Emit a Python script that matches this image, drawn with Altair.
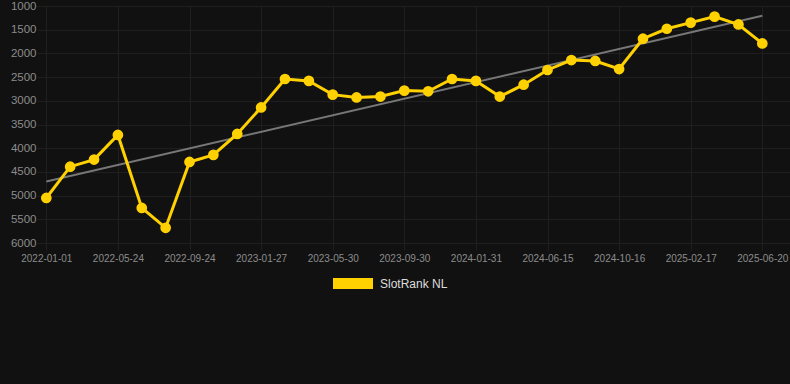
import altair as alt
import pandas as pd

# Categories (x) and values (y)
dates = ["2022-01-01", "2022-02-18", "2022-04-06", "2022-05-24", "2022-07-04", "2022-08-14",
         "2022-09-24", "2022-11-04", "2022-12-16", "2023-01-27", "2023-03-09", "2023-04-19",
         "2023-05-30", "2023-07-10", "2023-08-20", "2023-09-30", "2023-11-10", "2023-12-21",
         "2024-01-31", "2024-03-16", "2024-05-01", "2024-06-15", "2024-07-26", "2024-09-05",
         "2024-10-16", "2024-11-26", "2025-01-07", "2025-02-17", "2025-03-30", "2025-05-10",
         "2025-06-20"]
ranks = [5050, 4390, 4240, 3720, 5260, 5680, 4290, 4140, 3700, 3140, 2540, 2580,
         2870, 2930, 2910, 2785, 2800, 2540, 2580, 2910, 2660, 2350, 2140, 2160,
         2330, 1690, 1480, 1350, 1225, 1390, 1790]
tick_labels = ["2022-01-01", "2022-05-24", "2022-09-24", "2023-01-27", "2023-05-30",
               "2023-09-30", "2024-01-31", "2024-06-15", "2024-10-16", "2025-02-17",
               "2025-06-20"]
y_ticks = [1000, 1500, 2000, 2500, 3000, 3500, 4000, 4500, 5000, 5500, 6000]
series_name = "SlotRank NL"

YELLOW = "#FFD100"
BG = "#111111"
GRID = "#1f1f1f"
LABEL = "#8c8c8c"

df = pd.DataFrame({"idx": list(range(len(dates))), "date": dates, "rank": ranks,
                   "series": [series_name] * len(dates)})

tick_idx = [dates.index(t) for t in tick_labels]
label_expr = "[" + ",".join("'%s'" % t for t in tick_labels) + "][round(datum.value/3)]"

x_enc = alt.X("idx:Q",
              scale=alt.Scale(domain=[-0.39, 31.16], nice=False, zero=False),
              axis=alt.Axis(values=tick_idx, labelExpr=label_expr, title=None,
                            grid=True, gridColor=GRID, domain=False,
                            ticks=True, tickSize=7, tickColor=GRID,
                            labelColor=LABEL, labelFontSize=10, labelPadding=3,
                            labelFont="Liberation Sans", labelFlush=False))
y_enc = alt.Y("rank:Q",
              scale=alt.Scale(domain=[1000, 6000], reverse=True, nice=False, zero=False),
              axis=alt.Axis(values=y_ticks, format="d", title=None, grid=True, gridColor=GRID,
                            domain=False, ticks=False, labelColor=LABEL,
                            labelFontSize=11.5, labelPadding=1,
                            labelFont="Liberation Sans"))

base = alt.Chart(df)

trend = base.transform_regression("idx", "rank").mark_line(
    color="#777777", strokeWidth=2).encode(x=x_enc, y=y_enc)

line = base.mark_line(color=YELLOW, strokeWidth=3).encode(x=x_enc, y=y_enc)

points = base.mark_circle(size=115, opacity=1).encode(
    x=x_enc, y=y_enc,
    color=alt.Color("series:N",
                    scale=alt.Scale(domain=[series_name], range=[YELLOW]),
                    legend=alt.Legend(title=None, orient="none", legendX=296, legendY=257.5,
                                      padding=0,
                                      symbolType="M-1,-0.275L1,-0.275L1,0.275L-1,0.275Z",
                                      symbolSize=1600, symbolStrokeWidth=0,
                                      symbolFillColor=YELLOW, symbolOpacity=1,
                                      labelColor="#dddddd", labelFontSize=12,
                                      labelFont="Liberation Sans", labelOffset=7)))

chart = alt.layer(trend, line, points).properties(
    width=753, height=237,
    autosize=alt.AutoSizeParams(type="none"),
    padding={"left": 37, "top": 6, "right": 0, "bottom": 141},
    background=BG,
).configure_view(stroke=None, fill=BG)

chart.save("out.html", embed_options={"renderer": "svg", "actions": False})
